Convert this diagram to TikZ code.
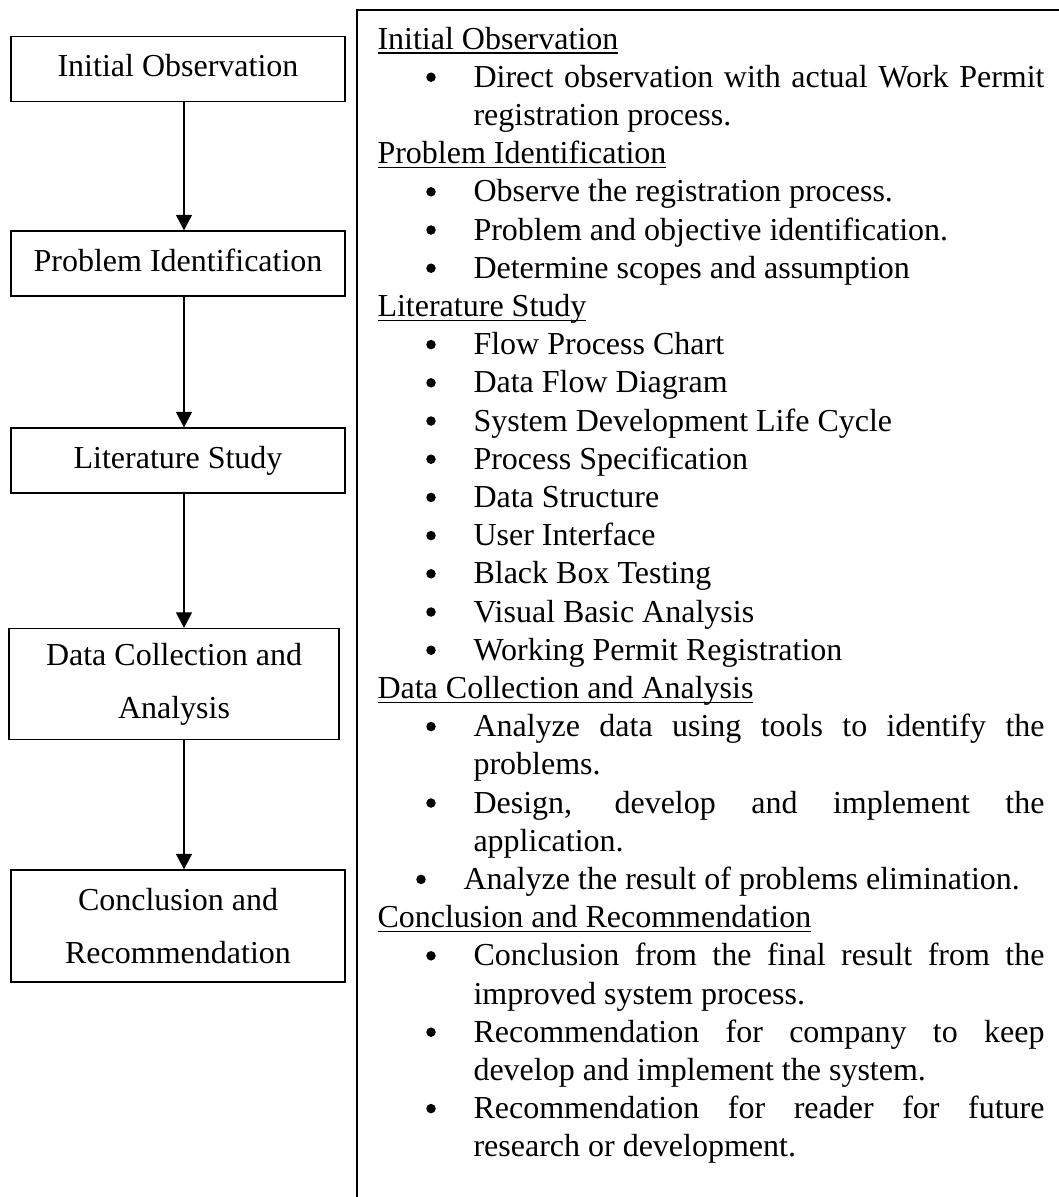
\documentclass[tikz,border=0pt]{standalone}
\usepackage{fontspec}
\setmainfont{Liberation Serif}
\usetikzlibrary{arrows.meta}

% one drawing unit
\newdimen\pxu \pxu=0.375pt
% underlined section heading
\newcommand\secline[1]{\setbox0\hbox{#1}\rlap{\rule[-1.8pt]{\wd0}{0.55pt}}\box0}
% full-width justified line of the notes column
\newcommand\justline[1]{\hbox to 571\pxu{#1}}

\tikzset{
  stepbox/.style={draw, line width=0.5pt, inner sep=0pt, align=center,
    font=\fontsize{12pt}{19.8pt}\selectfont},
  onebox/.style={stepbox, minimum width=334\pxu, text height=40\pxu, text depth=25\pxu},
  flow/.style={line width=0.45pt, -{Triangle[length=5.8pt, width=6pt]}},
  frame/.style={line width=0.75pt},
  item/.style={anchor=base west, inner sep=0pt, font=\fontsize{12pt}{14pt}\selectfont},
  dot/.style={circle, fill, draw=none, inner sep=0pt, minimum size=9.5\pxu},
}

\begin{document}
\begin{tikzpicture}[x=0.375pt, y=-0.375pt]
\clip (0,0) rectangle (1059,1197);

% ---- left column: the steps ----
\node[onebox] (b1) at (178,69) {Initial Observation};
\node[onebox] (b2) at (178,263.5) {Problem Identification};
\node[onebox] (b3) at (178,460.5) {Literature Study};
\node[stepbox, minimum width=330\pxu, minimum height=111\pxu] (b4) at (174,684)
  {Data Collection and\\Analysis};
\node[stepbox, minimum width=334\pxu, minimum height=112\pxu] (b5) at (178,926)
  {Conclusion and\\Recommendation};

\coordinate (spine) at (184,0);
\draw[flow] (b1.south -| spine) -- (b2.north -| spine);
\draw[flow] (b2.south -| spine) -- (b3.north -| spine);
\draw[flow] (b3.south -| spine) -- (b4.north -| spine);
\draw[flow] (b4.south -| spine) -- (b5.north -| spine);

% ---- right column: notes frame ----
\coordinate (fb) at (357,1215);
\coordinate (fl) at (357,10);
\coordinate (fr) at (1075,10);
\draw[frame] (fb) -- (fl) -- (fr);

% bullets
\foreach \i in {1,4,5,6,8,9,10,11,12,13,14,15,16,18,20,24,26,28}
  \node[dot] (dot\i) at (431,{39+38.2*\i}) {};
\node[dot] (dot22) at (421,{39+38.2*22}) {};

% headings and lines
\node[item] (l0)  at (377,{49+38.2*0})  {\secline{Initial Observation}};
\node[item] (l1)  at (473,{49+38.2*1})  {\justline{Direct observation with actual Work Permit}};
\node[item] (l2)  at (473,{49+38.2*2})  {registration process.};
\node[item] (l3)  at (377,{49+38.2*3})  {\secline{Problem Identification}};
\node[item] (l4)  at (473,{49+38.2*4})  {Observe the registration process.};
\node[item] (l5)  at (473,{49+38.2*5})  {Problem and objective identification.};
\node[item] (l6)  at (473,{49+38.2*6})  {Determine scopes and assumption};
\node[item] (l7)  at (377,{49+38.2*7})  {\secline{Literature Study}};
\node[item] (l8)  at (473,{49+38.2*8})  {Flow Process Chart};
\node[item] (l9)  at (473,{49+38.2*9})  {Data Flow Diagram};
\node[item] (l10) at (473,{49+38.2*10}) {System Development Life Cycle};
\node[item] (l11) at (473,{49+38.2*11}) {Process Specification};
\node[item] (l12) at (473,{49+38.2*12}) {Data Structure};
\node[item] (l13) at (473,{49+38.2*13}) {User Interface};
\node[item] (l14) at (473,{49+38.2*14}) {Black Box Testing};
\node[item] (l15) at (473,{49+38.2*15}) {Visual Basic Analysis};
\node[item] (l16) at (473,{49+38.2*16}) {Working Permit Registration};
\node[item] (l17) at (377,{49+38.2*17}) {\secline{Data Collection and Analysis}};
\node[item] (l18) at (473,{49+38.2*18}) {\justline{Analyze data using tools to identify the}};
\node[item] (l19) at (473,{49+38.2*19}) {problems.};
\node[item] (l20) at (473,{49+38.2*20}) {\justline{Design, develop and implement the}};
\node[item] (l21) at (473,{49+38.2*21}) {application.};
\node[item] (l22) at (463,{49+38.2*22}) {Analyze the result of problems elimination.};
\node[item] (l23) at (377,{49+38.2*23}) {\secline{Conclusion and Recommendation}};
\node[item] (l24) at (473,{49+38.2*24}) {\justline{Conclusion from the final result from the}};
\node[item] (l25) at (473,{49+38.2*25}) {improved system process.};
\node[item] (l26) at (473,{49+38.2*26}) {\justline{Recommendation for company to keep}};
\node[item] (l27) at (473,{49+38.2*27}) {develop and implement the system.};
\node[item] (l28) at (473,{49+38.2*28}) {\justline{Recommendation for reader for future}};
\node[item] (l29) at (473,{49+38.2*29}) {research or development.};
\end{tikzpicture}
\end{document}
